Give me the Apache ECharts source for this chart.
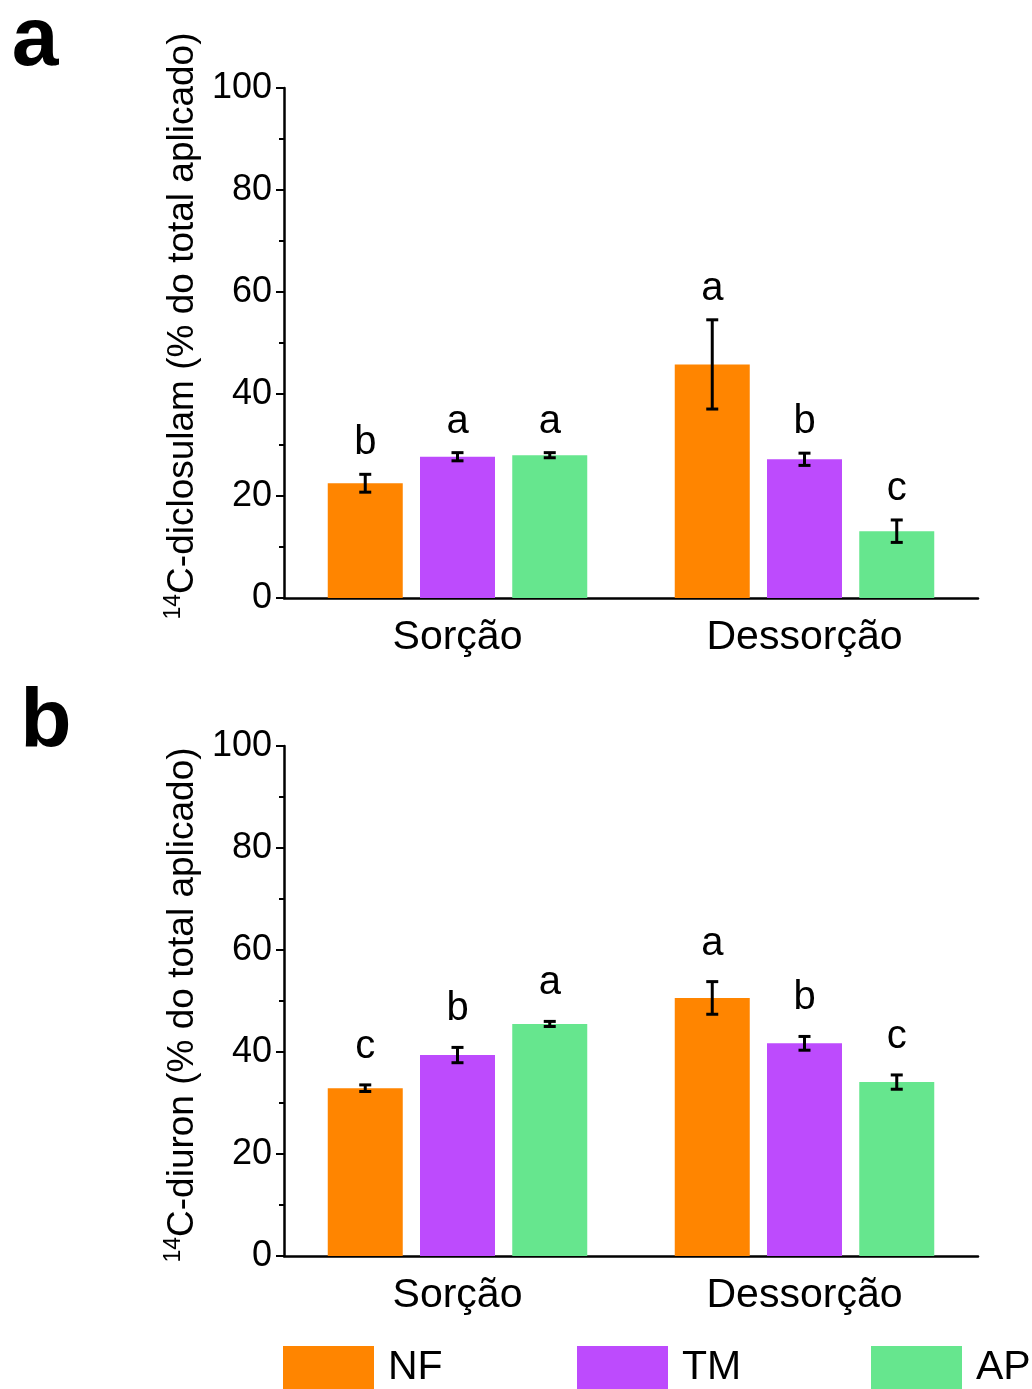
<!DOCTYPE html>
<html>
<head>
<meta charset="utf-8">
<script src="https://cdn.jsdelivr.net/npm/echarts@6/dist/echarts.min.js"></script>
<style>
html,body{margin:0;padding:0;background:#fff;}
#chart{width:1032px;height:1389px;}
</style>
</head>
<body>
<div id="chart"></div>
<script>
// ---- data ----
const categories = ['Sorção', 'Dessorção'];
const groupNames = ['NF', 'TM', 'AP'];
const yTicks = [0, 20, 40, 60, 80, 100];

// panel a: 14C-diclosulam
const dicloNF = [22.5, 45.8];
const dicloTM = [27.7, 27.2];
const dicloAP = [28.0, 13.1];
const dicloNFerr = [1.75, 8.75];
const dicloTMerr = [0.8, 1.2];
const dicloAPerr = [0.5, 2.2];
const dicloNFletters = ['b', 'a'];
const dicloTMletters = ['a', 'b'];
const dicloAPletters = ['a', 'c'];

// panel b: 14C-diuron
const diuronNF = [32.9, 50.6];
const diuronTM = [39.4, 41.7];
const diuronAP = [45.5, 34.1];
const diuronNFerr = [0.65, 3.2];
const diuronTMerr = [1.5, 1.35];
const diuronAPerr = [0.5, 1.4];
const diuronNFletters = ['c', 'a'];
const diuronTMletters = ['b', 'b'];
const diuronAPletters = ['a', 'c'];

// ---- style ----
const FONT = "'Liberation Sans', Arial, sans-serif";
const colors = ['#FF8500', '#BD4BFD', '#66E68E'];
const BAR_W = 75;
const BAR_GAP = 0.23;
const chart = echarts.init(document.getElementById('chart'));

const panels = [
  { vals: [dicloNF, dicloTM, dicloAP], errs: [dicloNFerr, dicloTMerr, dicloAPerr],
    letters: [dicloNFletters, dicloTMletters, dicloAPletters], top: 88, letterGap: 11 },
  { vals: [diuronNF, diuronTM, diuronAP], errs: [diuronNFerr, diuronTMerr, diuronAPerr],
    letters: [diuronNFletters, diuronTMletters, diuronAPletters], top: 746, letterGap: 18 }
];

const grids = [], xAxes = [], yAxes = [], series = [];
panels.forEach((p, pi) => {
  grids.push({ left: 284, right: 54, top: p.top, height: 510 });
  xAxes.push({
    type: 'category', gridIndex: pi, data: categories,
    axisLine: { lineStyle: { color: '#000', width: 2.5 } },
    axisTick: { show: false },
    axisLabel: { color: '#000', fontSize: 41, fontFamily: FONT, margin: 19 }
  });
  yAxes.push({
    type: 'value', gridIndex: pi, min: yTicks[0], max: yTicks[yTicks.length - 1], interval: 20,
    axisLine: { show: true, lineStyle: { color: '#000', width: 2.5 } },
    axisTick: { show: true, length: 8, lineStyle: { color: '#000', width: 2 } },
    minorTick: { show: true, splitNumber: 2, length: 5, lineStyle: { color: '#000', width: 2 } },
    splitLine: { show: false },
    axisLabel: { color: '#000', fontSize: 36, fontFamily: FONT, margin: 12 }
  });
  groupNames.forEach((g, gi) => {
    series.push({
      name: g, type: 'bar', xAxisIndex: pi, yAxisIndex: pi,
      data: p.vals[gi], barWidth: BAR_W, barGap: (BAR_GAP * 100) + '%',
      itemStyle: { color: colors[gi] }, z: 2
    });
  });
  groupNames.forEach((g, gi) => {
    const vals = p.vals[gi], errs = p.errs[gi], lets = p.letters[gi];
    series.push({
      type: 'custom', xAxisIndex: pi, yAxisIndex: pi, z: 5,
      data: vals.map((v, i) => [i, v, errs[i]]),
      renderItem: function (params, api) {
        const ci = api.value(0), v = api.value(1), e = api.value(2);
        const step = BAR_W * (1 + BAR_GAP);
        const c = api.coord([ci, v]);
        const x = c[0] + (gi - 1) * step;
        const yHi = api.coord([ci, v + e])[1];
        const yLo = api.coord([ci, v - e])[1];
        const cap = 6;
        const ls = { stroke: '#000', lineWidth: 3 };
        return {
          type: 'group',
          children: [
            { type: 'line', shape: { x1: x, y1: yHi, x2: x, y2: yLo }, style: ls },
            { type: 'line', shape: { x1: x - cap, y1: yHi, x2: x + cap, y2: yHi }, style: ls },
            { type: 'line', shape: { x1: x - cap, y1: yLo, x2: x + cap, y2: yLo }, style: ls },
            { type: 'text', x: x, y: yHi - p.letterGap,
              style: { text: lets[params.dataIndex], fill: '#000', font: '40px ' + FONT,
                       align: 'center', verticalAlign: 'bottom' } }
          ]
        };
      }
    });
  });
});

const legendLefts = [283, 577, 871];
const legends = groupNames.map((g, gi) => ({
  data: [g], left: legendLefts[gi], top: 1346, padding: 0, itemWidth: 91, itemHeight: 44,
  icon: 'rect', selectedMode: false,
  textStyle: { color: '#000', fontSize: 41, fontFamily: FONT, padding: [0, 0, 0, 9] }
}));

const rich = { sup: { fontSize: 23, fontFamily: FONT, fill: '#000', verticalAlign: 'top', lineHeight: 41 },
               n: { fontSize: 37, fontFamily: FONT, fill: '#000', lineHeight: 41 } };

chart.setOption({
  animation: false,
  backgroundColor: '#fff',
  grid: grids, xAxis: xAxes, yAxis: yAxes, series: series, legend: legends,
  graphic: [
    { type: 'text', x: 35, y: 42, style: { text: 'a', font: 'bold 84px ' + FONT, fill: '#000', align: 'center', verticalAlign: 'middle' } },
    { type: 'text', x: 46, y: 724, style: { text: 'b', font: 'bold 84px ' + FONT, fill: '#000', align: 'center', verticalAlign: 'middle' } },
    { type: 'text', x: 183, y: 326, rotation: Math.PI / 2,
      style: { text: '{sup|14}{n|C-diclosulam (% do total aplicado)}', rich: rich, align: 'center', verticalAlign: 'middle' } },
    { type: 'text', x: 183, y: 1005, rotation: Math.PI / 2,
      style: { text: '{sup|14}{n|C-diuron (% do total aplicado)}', rich: rich, align: 'center', verticalAlign: 'middle' } }
  ]
});
</script>
</body>
</html>
